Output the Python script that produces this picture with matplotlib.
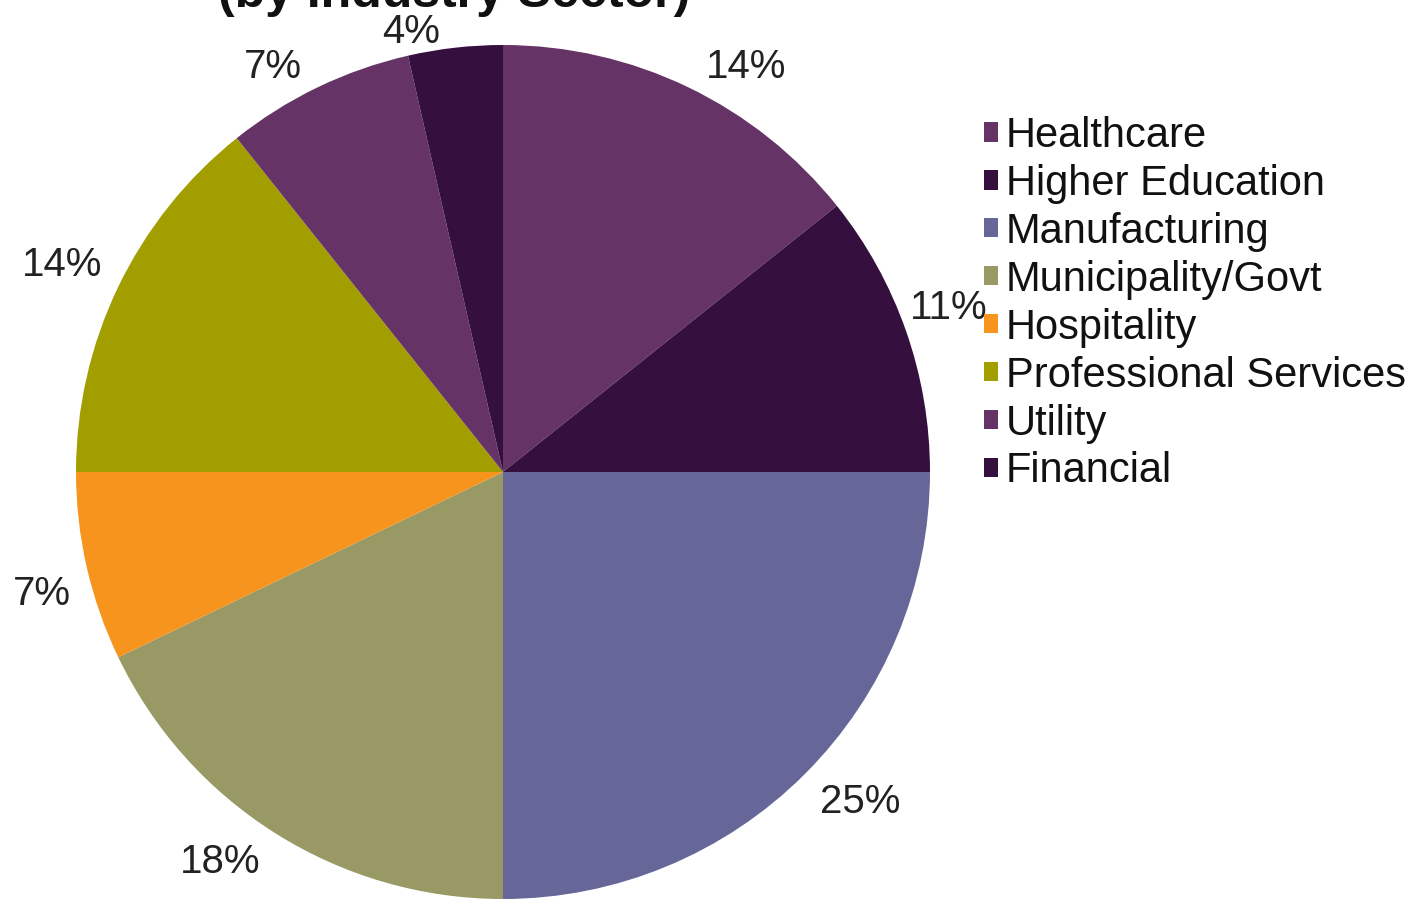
import numpy as np
import matplotlib.pyplot as plt
from matplotlib.patches import Patch

plt.rcParams['font.family'] = ['Liberation Sans', 'DejaVu Sans']

# customer counts per industry sector
sectors = ['Healthcare', 'Higher Education', 'Manufacturing', 'Municipality/Govt',
           'Hospitality', 'Professional Services', 'Utility', 'Financial']
counts = [4, 3, 7, 5, 2, 4, 2, 1]
colors = ['#663366', '#35103f', '#666699', '#999966',
          '#f7941d', '#a39e00', '#663366', '#35103f']

# label placement: distance from centre (in radii) and angle nudge (deg)
label_radius = [1.106, 1.111, 1.138, 1.127, 1.117, 1.141, 1.091, 1.052]
label_shift = [-5.3, 0.9, 2.25, -3.8, 2.0, 0.6, 3.9, 5.4]

fig = plt.figure(figsize=(14.26, 8.99), dpi=100)
fig.patch.set_facecolor('white')

# pie axes: square area on the left, touching the bottom edge
ax = fig.add_axes([76 / 1426, 0.0, 854 / 1426, 854 / 899])
wedges, texts, autotexts = ax.pie(
    counts, colors=colors, startangle=90, counterclock=False,
    autopct='%1.0f%%', pctdistance=1.12, radius=1.0,
    wedgeprops=dict(edgecolor='none', linewidth=0),
    textprops=dict(fontsize=29, color='#222222'))
ax.set_xlim(-1, 1)
ax.set_ylim(-1, 1)
ax.set_aspect('equal')
ax.axis('off')

for w, t, r, s in zip(wedges, autotexts, label_radius, label_shift):
    ang = np.deg2rad((w.theta1 + w.theta2) / 2 + s)
    t.set_position((r * np.cos(ang), r * np.sin(ang)))
    t.set_ha('center')
    t.set_va('center')

fig.text(454 / 1426, 1 - 7 / 899, '(by Industry Sector)', fontsize=36,
         fontweight='bold', ha='center', va='baseline', color='#111111')

handles = [Patch(facecolor=c, edgecolor='none') for c in colors]
fig.legend(handles, sectors, loc='upper left',
           bbox_to_anchor=(984 / 1426, 1 - 116 / 899),
           frameon=False, fontsize=30, handlelength=0.33, handleheight=0.33,
           handletextpad=0.2, labelspacing=0.19, borderpad=0, borderaxespad=0,
           labelcolor='#111111')

fig.savefig('out.png', dpi=100, facecolor='white')
plt.close(fig)
